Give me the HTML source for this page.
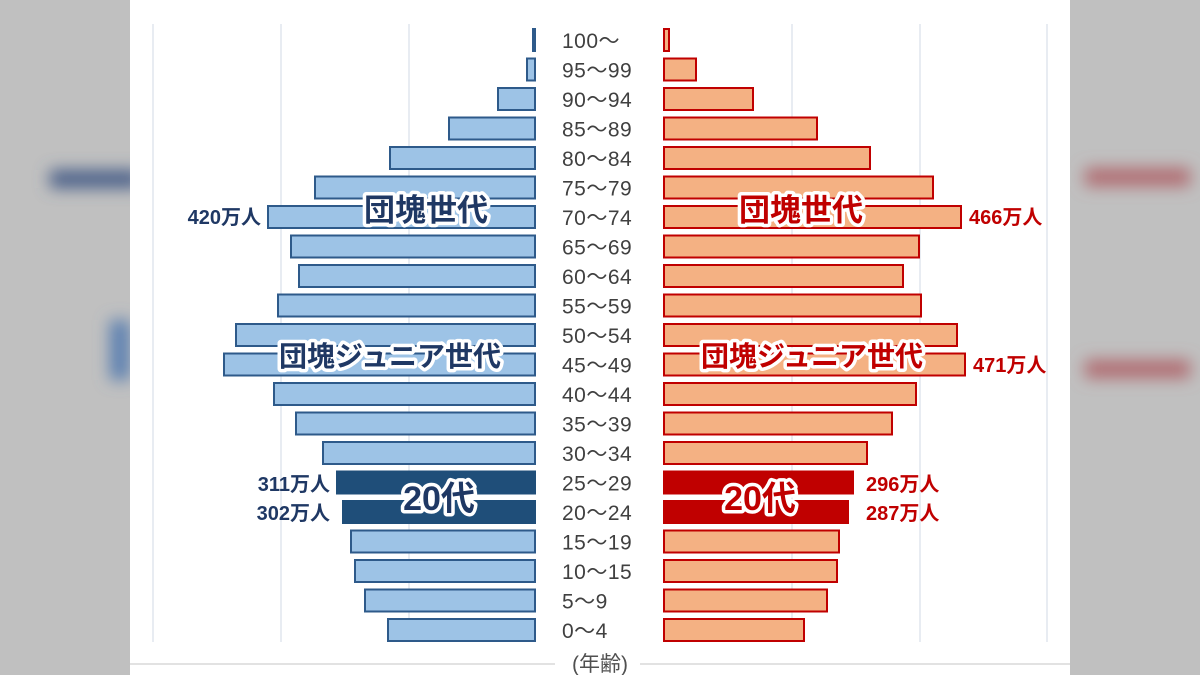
<!DOCTYPE html>
<html><head><meta charset="utf-8"><style>
html,body{margin:0;padding:0;background:#c0c0c0;width:1200px;height:675px;overflow:hidden}
svg{display:block}
text{font-family:"Liberation Sans","Noto Sans CJK JP",sans-serif}
</style></head><body>
<svg width="1200" height="675" viewBox="0 0 1200 675" xmlns="http://www.w3.org/2000/svg">
<defs><filter id="bl"><feGaussianBlur stdDeviation="8"/></filter></defs>
<rect width="1200" height="675" fill="#c0c0c0"/>
<g filter="url(#bl)">
<rect x="50" y="170" width="90" height="18" fill="#4a5f88"/>
<rect x="110" y="320" width="20" height="60" fill="#5a7fb0"/>
<rect x="1085" y="168" width="105" height="18" fill="#b06a70"/>
<rect x="1085" y="360" width="105" height="18" fill="#b06a70"/>
</g>
<rect x="130" y="0" width="940" height="675" fill="#ffffff"/>
<g stroke="#e8ecf2" stroke-width="2">
<line x1="153" y1="24" x2="153" y2="642"/><line x1="281" y1="24" x2="281" y2="642"/>
<line x1="409" y1="24" x2="409" y2="642"/>
<line x1="792" y1="24" x2="792" y2="642"/><line x1="920" y1="24" x2="920" y2="642"/>
<line x1="1047" y1="24" x2="1047" y2="642"/>
</g>
<line x1="130" y1="664" x2="555" y2="664" stroke="#d8d8d8" stroke-width="1.5"/>
<line x1="640" y1="664" x2="1070" y2="664" stroke="#d8d8d8" stroke-width="1.5"/>
<g id="bars"></g>
<g id="cats" font-size="21" fill="#404040" letter-spacing="0.5"></g>
<text x="600" y="671" font-size="21" fill="#505050" text-anchor="middle">(年齢)</text>
<g font-weight="bold" font-size="20" fill="#1f3864" text-anchor="end">
<text x="261" y="224">420万人</text>
<text x="330" y="491">311万人</text>
<text x="330" y="520">302万人</text>
</g>
<g font-weight="bold" font-size="20" fill="#c00000">
<text x="969" y="224">466万人</text>
<text x="973" y="372">471万人</text>
<text x="866" y="491">296万人</text>
<text x="866" y="520">287万人</text>
</g>
<g font-weight="bold" text-anchor="middle" stroke="#ffffff" stroke-width="7" stroke-linejoin="round" paint-order="stroke">
<text x="426" y="221" font-size="31" fill="#1f3864">団塊世代</text>
<text x="390" y="366" font-size="28" fill="#1f3864">団塊ジュニア世代</text>
<text x="439" y="510" font-size="34" fill="#1f3864">20代</text>
<text x="801" y="221" font-size="31" fill="#c00000">団塊世代</text>
<text x="812" y="366" font-size="28" fill="#c00000">団塊ジュニア世代</text>
<text x="760" y="510" font-size="34" fill="#c00000">20代</text>
</g>
</svg>
<script>
var cats=["100～","95～99","90～94","85～89","80～84","75～79","70～74","65～69","60～64","55～59","50～54","45～49","40～44","35～39","30～34","25～29","20～24","15～19","10～15","5～9","0～4"];
var L=[533,527,498,449,390,315,268,291,299,278,236,224,274,296,323,337,343,351,355,365,388];
var R=[669,696,753,817,870,933,961,919,903,921,957,965,916,892,867,853,848,839,837,827,804];
var ns="http://www.w3.org/2000/svg",b=document.getElementById("bars"),c=document.getElementById("cats");
for(var i=0;i<21;i++){
 var y=40+29.5*i, dark=(i==15||i==16);
 var r=document.createElementNS(ns,"rect");
 r.setAttribute("x",L[i]);r.setAttribute("y",y-11);r.setAttribute("width",535-L[i]);r.setAttribute("height",22);
 r.setAttribute("fill",dark?"#1f4e79":"#9dc3e6");r.setAttribute("stroke",dark?"#1f4e79":"#2e5a8a");r.setAttribute("stroke-width","2");b.appendChild(r);
 var q=document.createElementNS(ns,"rect");
 q.setAttribute("x",664);q.setAttribute("y",y-11);q.setAttribute("width",R[i]-664);q.setAttribute("height",22);
 q.setAttribute("fill",dark?"#c00000":"#f4b183");q.setAttribute("stroke","#c00000");q.setAttribute("stroke-width","2");b.appendChild(q);
 var t=document.createElementNS(ns,"text");t.setAttribute("x",562);t.setAttribute("y",y+8);t.textContent=cats[i];c.appendChild(t);
}
</script>
</body></html>
